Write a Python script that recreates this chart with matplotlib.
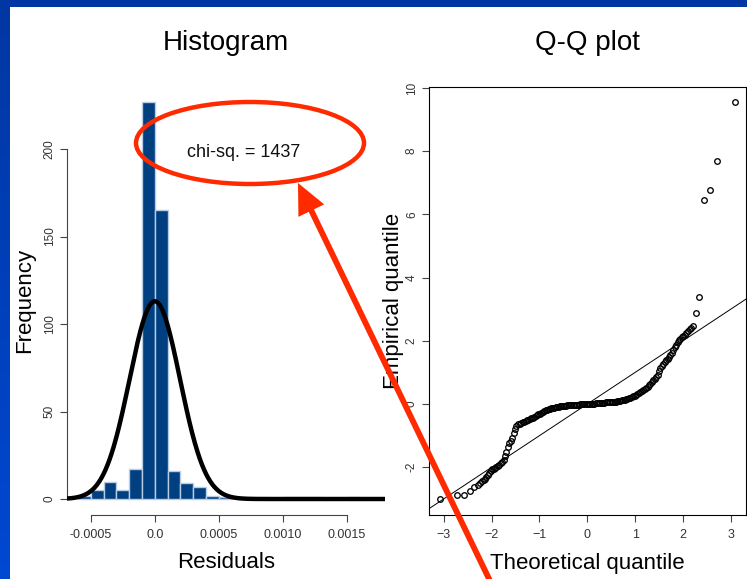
import matplotlib
matplotlib.use('Agg')
import matplotlib.pyplot as plt
import numpy as np
from matplotlib.patches import Ellipse, FancyArrowPatch, Rectangle

plt.rcParams['font.family'] = ['Liberation Sans', 'DejaVu Sans']

# ---------------- data ----------------
hist_bin_width = 0.0001
hist_bin_left = [-0.0006, -0.0005, -0.0004, -0.0003, -0.0002, -0.0001, 0.0,
                 0.0001, 0.0002, 0.0003, 0.0004, 0.0005, 0.0010, 0.0011, 0.0012, 0.0015]
hist_counts = [2, 5, 10, 5, 17, 227, 165, 16, 9, 7, 2, 1, 1, 1, 1, 1]
fit_mean, fit_sd, fit_peak = 0.0, 0.000197, 113
hist_xticks = [-0.0005, 0.0, 0.0005, 0.0010, 0.0015]
hist_xticklabels = ['-0.0005', '0.0', '0.0005', '0.0010', '0.0015']
hist_yticks = [0, 50, 100, 150, 200]
chi_text = 'chi-sq. = 1437'

qq_left_tail_t = [-3.08, -2.72, -2.57, -2.45, -2.36, -2.29, -2.24]
qq_left_tail_e = [-2.99, -2.88, -2.88, -2.75, -2.64, -2.56, -2.50]
qq_left_chain_t = [-2.20, -2.17, -2.14, -2.11, -2.08, -2.05, -2.02, -1.99, -1.96, -1.93,
                   -1.90, -1.87, -1.84, -1.81, -1.78, -1.75, -1.72, -1.69, -1.66, -1.63,
                   -1.60, -1.57, -1.54, -1.51, -1.48]
qq_left_chain_e = [-2.44, -2.41, -2.37, -2.32, -2.26, -2.19, -2.12, -2.07, -2.04, -2.01,
                   -1.98, -1.95, -1.92, -1.88, -1.84, -1.76, -1.64, -1.51, -1.36, -1.24,
                   -1.16, -1.06, -0.93, -0.78, -0.69]
qq_mid_t = [-1.44, -1.41, -1.38, -1.35, -1.32, -1.29, -1.26, -1.23, -1.20, -1.17,
            -1.14, -1.11, -1.08, -1.05, -1.02, -0.99, -0.96, -0.93, -0.90, -0.87,
            -0.84, -0.81, -0.78, -0.75, -0.72, -0.69, -0.66, -0.63, -0.60, -0.57,
            -0.54, -0.51, -0.48, -0.45, -0.42, -0.39, -0.36, -0.33, -0.30, -0.27,
            -0.24, -0.21, -0.18, -0.15, -0.12, -0.09, -0.06, -0.03, 0.00, 0.03,
            0.06, 0.09, 0.12, 0.15, 0.18, 0.21, 0.24, 0.27, 0.30, 0.33,
            0.36, 0.39, 0.42, 0.45, 0.48, 0.51, 0.54, 0.57, 0.60, 0.63,
            0.66, 0.69, 0.72, 0.75, 0.78, 0.81, 0.84, 0.87, 0.90, 0.93,
            0.96, 0.99, 1.02, 1.05, 1.08, 1.11, 1.14, 1.17, 1.20, 1.23,
            1.26, 1.29, 1.32, 1.35, 1.38, 1.41, 1.44, 1.47, 1.50, 1.53,
            1.56, 1.59, 1.62, 1.65, 1.68, 1.71, 1.74, 1.77, 1.80, 1.83,
            1.86, 1.89, 1.92, 1.95]
qq_mid_e = [-0.64, -0.62, -0.60, -0.58, -0.555, -0.535, -0.51, -0.49, -0.47, -0.45,
            -0.43, -0.41, -0.385, -0.36, -0.33, -0.30, -0.27, -0.245, -0.22, -0.20,
            -0.18, -0.165, -0.15, -0.135, -0.12, -0.11, -0.10, -0.09, -0.08, -0.075,
            -0.07, -0.06, -0.055, -0.05, -0.045, -0.04, -0.035, -0.03, -0.03, -0.025,
            -0.02, -0.02, -0.015, -0.01, -0.01, -0.005, 0.0, 0.0, 0.0, 0.005,
            0.01, 0.01, 0.015, 0.015, 0.02, 0.025, 0.03, 0.035, 0.04, 0.04,
            0.045, 0.05, 0.05, 0.055, 0.06, 0.065, 0.07, 0.075, 0.08, 0.09,
            0.10, 0.11, 0.12, 0.13, 0.14, 0.155, 0.17, 0.185, 0.20, 0.22,
            0.24, 0.26, 0.29, 0.31, 0.34, 0.37, 0.40, 0.435, 0.47, 0.51,
            0.555, 0.60, 0.65, 0.70, 0.76, 0.80, 0.84, 0.93, 1.05, 1.13,
            1.20, 1.26, 1.32, 1.38, 1.44, 1.50, 1.56, 1.63, 1.72, 1.80,
            1.88, 1.96, 2.02, 2.07]
qq_right_chain_t = [1.98, 2.01, 2.04, 2.07, 2.10, 2.14, 2.17, 2.21]
qq_right_chain_e = [2.11, 2.15, 2.20, 2.25, 2.30, 2.36, 2.41, 2.48]
qq_right_tail_t = [2.28, 2.34, 2.45, 2.57, 2.72, 3.08]
qq_right_tail_e = [2.89, 3.39, 6.47, 6.78, 7.68, 9.56]
qq_xticks = [-3, -2, -1, 0, 1, 2, 3]
qq_yticks = [-2, 0, 2, 4, 6, 8, 10]

qq_t = qq_left_tail_t + qq_left_chain_t + qq_mid_t + qq_right_chain_t + qq_right_tail_t
qq_e = qq_left_tail_e + qq_left_chain_e + qq_mid_e + qq_right_chain_e + qq_right_tail_e

# ---------------- figure ----------------
W, H = 747, 579
fig = plt.figure(figsize=(W / 100, H / 100), dpi=100)
fig.patch.set_facecolor('white')


def fx(px):
    return px / W


def fy(py):
    return 1 - py / H


tick_color = '#333333'

# Histogram panel
ax1 = fig.add_axes([fx(67), fy(515), fx(385) - fx(67), fy(86) - fy(515)])
ax1.set_facecolor('none')
ax1.bar(hist_bin_left, hist_counts, width=hist_bin_width, align='edge',
        color='#003F80', edgecolor='#B8CCE4', linewidth=1.0, zorder=2)
ax1.set_xlim(-0.000686, 0.0017984)
ax1.set_ylim(-9.14, 236)
xs = np.linspace(-0.000686, 0.0017984, 600)
ys = fit_peak * np.exp(-0.5 * ((xs - fit_mean) / fit_sd) ** 2)
ax1.plot(xs, ys, color='black', lw=3.2, zorder=3, solid_capstyle='butt')
for s in ['top', 'right']:
    ax1.spines[s].set_visible(False)
ax1.spines['left'].set_bounds(0, 200)
ax1.spines['bottom'].set_bounds(-0.0005, 0.0015)
for s in ['left', 'bottom']:
    ax1.spines[s].set_linewidth(0.8)
    ax1.spines[s].set_color('#444444')
ax1.set_xticks(hist_xticks)
ax1.set_xticklabels(hist_xticklabels)
ax1.set_yticks(hist_yticks)
ax1.set_yticklabels([str(v) for v in hist_yticks], rotation=90, va='center')
ax1.tick_params(axis='both', direction='out', length=5, width=0.8, color='#444444',
                labelcolor=tick_color)
ax1.tick_params(axis='x', labelsize=9, pad=5)
ax1.tick_params(axis='y', labelsize=8.5, pad=3)
ax1.text(0.00069, 198, chi_text, ha='center', va='center', fontsize=13, color='#111111',
         zorder=4)

# Q-Q panel
ax2 = fig.add_axes([fx(429), fy(515), fx(746) - fx(429), fy(87) - fy(515)])
ax2.set_facecolor('none')
ax2.set_xlim(-3.31, 3.32)
ax2.set_ylim(-3.51, 10.03)
ax2.axline((0, 0), slope=1, color='black', lw=0.7, zorder=2)
ax2.plot(qq_t, qq_e, linestyle='none', marker='o', ms=4.0, mfc='none', mec='black',
         mew=0.95, zorder=3)
for s in ax2.spines.values():
    s.set_linewidth(0.8)
    s.set_color('black')
ax2.set_xticks(qq_xticks)
ax2.set_yticks(qq_yticks)
ax2.set_yticklabels([str(v) for v in qq_yticks], rotation=90, va='center')
ax2.tick_params(axis='both', direction='out', length=5, width=0.8, color='#444444',
                labelcolor=tick_color)
ax2.tick_params(axis='x', labelsize=9, pad=5)
ax2.tick_params(axis='y', labelsize=8.5, pad=3)

# Titles and axis labels
fig.text(fx(226), fy(43), 'Histogram', ha='center', va='center', fontsize=20)
fig.text(fx(587), fy(43), 'Q-Q plot', ha='center', va='center', fontsize=20)
fig.text(fx(25), fy(300), 'Frequency', ha='center', va='center', fontsize=16, rotation=90)
fig.text(fx(393), fy(301), 'Empirical quantile', ha='center', va='center', fontsize=16,
         rotation=90)
fig.text(fx(226), fy(563), 'Residuals', ha='center', va='center', fontsize=16)
fig.text(fx(587), fy(563), 'Theoretical quantile', ha='center', va='center', fontsize=16)

# Overlay (pixel coordinates) for slide decoration
ov = fig.add_axes([0, 0, 1, 1], zorder=10)
ov.set_facecolor('none')
ov.axis('off')
grad = np.linspace(0, 1, 256).reshape(-1, 1)
top_col = np.array([0x00, 0x37, 0xA2]) / 255
bot_col = np.array([0x00, 0x48, 0xD2]) / 255
img = top_col[None, None, :] * (1 - grad[:, :, None]) + bot_col[None, None, :] * grad[:, :, None]
ov.imshow(img, extent=(0, 10, H, 0), aspect='auto', interpolation='bilinear')
ov.add_patch(Rectangle((0, 0), W, 7, facecolor='#0037A2', edgecolor='none'))
red = '#FF2A00'
ov.add_patch(Ellipse((250, 143), 228, 82, fill=False, edgecolor=red, lw=3.2))
arrow = FancyArrowPatch((492, 585), (298, 183), arrowstyle='-|>,head_length=0.75,head_width=0.35',
                        mutation_scale=20, color=red, lw=4.2, shrinkA=0, shrinkB=0,
                        joinstyle='miter', capstyle='butt')
ov.add_patch(arrow)
ov.set_xlim(0, W)
ov.set_ylim(H, 0)

fig.savefig('out.png', dpi=100, facecolor='white')
